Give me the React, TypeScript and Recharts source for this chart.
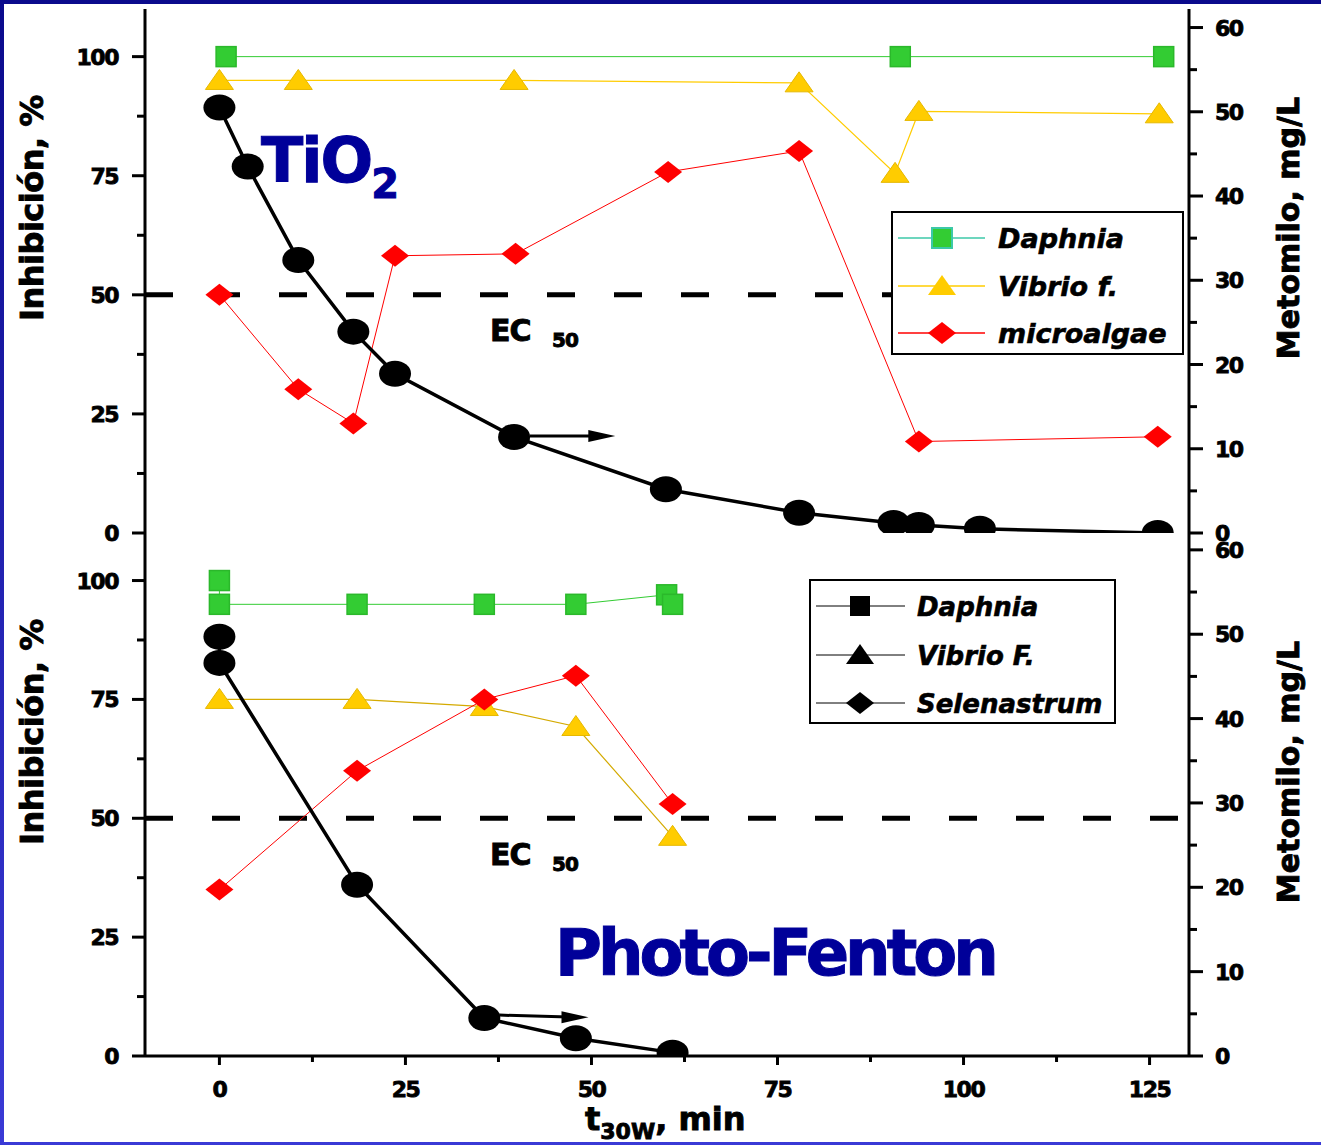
import React from 'react';
import { ComposedChart, Line, XAxis, YAxis, ReferenceLine, ReferenceDot } from 'recharts';

// TiO2 panel (top)
const tio2DaphniaT = [0.9, 91.5, 126.9];
const tio2DaphniaInh = [100, 100, 100];
const tio2VibrioT = [0, 10.6, 39.6, 77.9, 90.8, 94.0, 126.3];
const tio2VibrioInh = [95, 95, 95, 94.5, 75.5, 88.5, 88];
const tio2AlgaeT = [0, 10.6, 18.0, 23.6, 39.8, 60.3, 77.9, 94.0, 126.1];
const tio2AlgaeInh = [50, 30.2, 23, 58.2, 58.6, 75.8, 80.2, 19.2, 20.2];
const tio2MetT = [0, 3.8, 10.6, 18.0, 23.6, 39.6, 60.0, 77.9, 90.6, 94.0, 102.2, 126.1];
const tio2MetConc = [50.5, 43.5, 32.4, 23.9, 18.9, 11.4, 5.2, 2.4, 1.2, 0.95, 0.5, 0];

// Photo-Fenton panel (bottom)
const pfDaphniaT = [0, 0, 18.5, 35.6, 47.9, 60.1, 60.9];
const pfDaphniaInh = [100, 95, 95, 95, 95, 97, 95];
const pfVibrioT = [0, 18.5, 35.6, 47.9, 60.9];
const pfVibrioInh = [75, 75, 73.5, 69.3, 46.2];
const pfAlgaeT = [0, 18.5, 35.6, 47.9, 60.9];
const pfAlgaeInh = [35, 60, 75, 80, 53];
const pfMetT = [0, 0, 18.5, 35.6, 47.9, 60.9];
const pfMetConc = [49.7, 46.6, 20.3, 4.5, 2.1, 0.4];

// axes
const ec50 = 50;
const tDomain = [-10, 130.3];
const tTicks = [0, 12.5, 25, 37.5, 50, 62.5, 75, 87.5, 100, 112.5, 125];
const inhTicks = [0, 12.5, 25, 37.5, 50, 62.5, 75, 87.5, 100];
const concTicks = [0, 5, 10, 15, 20, 25, 30, 35, 40, 45, 50, 55, 60];

// arrows pointing to the right axis
const tio2Arrow = [{ t: 41.7, v: 11.5 }, { t: 53.2, v: 11.5 }];
const pfArrow = [{ t: 37.6, v: 4.85 }, { t: 49.6, v: 4.6 }];

const zip = (ts: number[], vs: number[]) => ts.map((t, i) => ({ t, v: vs[i] }));
const ec50Line = [{ t: tDomain[0], v: ec50 }, { t: tDomain[1], v: ec50 }];

const FONT = '"DejaVu Sans", Verdana, sans-serif';
const NAVY = '#000099';
const GREEN = '#33cc33';
const TEAL = '#3cc8a8';
const YELLOW = '#ffcc00';
const RED = '#ff0000';

const tickStyle: React.CSSProperties = {
  fontFamily: FONT, fontWeight: 700, fontSize: 22, letterSpacing: -1.5, fill: '#000', stroke: '#000', strokeWidth: 0.8,
};

function LeftTick(props: any) {
  const { x, y, payload } = props;
  const major = payload.value % 25 === 0;
  return (
    <g>
      <line x1={x - (major ? 13 : 8)} y1={y} x2={x} y2={y} stroke="#000" strokeWidth={3} />
      {major && <text x={x - 27} y={y + 8} textAnchor="end" style={tickStyle}>{payload.value}</text>}
    </g>
  );
}

function RightTick(props: any) {
  const { x, y, payload } = props;
  const major = payload.value % 10 === 0;
  return (
    <g>
      <line x1={x} y1={y} x2={x + (major ? 14 : 8)} y2={y} stroke="#000" strokeWidth={3} />
      {major && <text x={x + 26} y={y + 8} textAnchor="start" style={tickStyle}>{payload.value}</text>}
    </g>
  );
}

function BottomTick(props: any) {
  const { x, y, payload } = props;
  const major = payload.value % 25 === 0;
  return (
    <g>
      <line x1={x} y1={y} x2={x} y2={y + (major ? 9 : 6)} stroke="#000" strokeWidth={3} />
      {major && <text x={x} y={y + 41} textAnchor="middle" style={tickStyle}>{payload.value}</text>}
    </g>
  );
}

const square = (fill: string, stroke: string) => (p: any) => (
  <rect key={`sq-${p.index}`} x={p.cx - 10} y={p.cy - 10} width={20} height={20} fill={fill} stroke={stroke} strokeWidth={1.5} />
);
const triangle = (p: any) => (
  <polygon key={`tr-${p.index}`} points={`${p.cx},${p.cy - 11} ${p.cx - 14},${p.cy + 9} ${p.cx + 14},${p.cy + 9}`} fill={YELLOW} stroke="#e6b800" strokeWidth={1} />
);
const diamond = (p: any) => (
  <polygon key={`di-${p.index}`} points={`${p.cx},${p.cy - 11} ${p.cx + 14},${p.cy} ${p.cx},${p.cy + 11} ${p.cx - 14},${p.cy}`} fill={RED} />
);
const blob = (p: any) => <ellipse key={`el-${p.index}`} cx={p.cx} cy={p.cy} rx={16} ry={13} fill="#000" />;
const arrowHead = (p: any) => (
  <polygon points={`${p.cx},${p.cy} ${p.cx - 27},${p.cy - 6} ${p.cx - 27},${p.cy + 6}`} fill="#000" />
);

const axisLine = { stroke: '#000', strokeWidth: 3 };

function Panel(props: {
  height: number; top: number; bottom: number; showX: boolean; xHeight: number; concMax: number;
  daphnia: { t: number; v: number }[]; vibrio: { t: number; v: number }[]; algae: { t: number; v: number }[];
  met: { t: number; v: number }[]; arrow: { t: number; v: number }[]; vibrioLine: string;
}) {
  const { height, top, bottom, showX, xHeight, concMax, daphnia, vibrio, algae, met, arrow, vibrioLine } = props;
  return (
    <ComposedChart width={1321} height={height} margin={{ top, right: 0, bottom, left: 0 }}>
      <XAxis xAxisId="b" type="number" dataKey="t" domain={tDomain} allowDataOverflow ticks={tTicks} interval={0}
        height={xHeight} tickSize={0} tickMargin={0} tickLine={false} axisLine={axisLine}
        tick={showX ? <BottomTick /> : false} />
      <XAxis xAxisId="top" orientation="top" type="number" dataKey="t" domain={tDomain} allowDataOverflow
        height={0} tick={false} tickLine={false} axisLine={axisLine} hide={showX} />
      <YAxis yAxisId="l" type="number" domain={[0, 110]} allowDataOverflow ticks={inhTicks} interval={0}
        width={145} tickSize={0} tickMargin={0} tickLine={false} axisLine={axisLine} tick={<LeftTick />} />
      <YAxis yAxisId="r" orientation="right" type="number" domain={[0, concMax]} allowDataOverflow ticks={concTicks} interval={0}
        width={132} tickSize={0} tickMargin={0} tickLine={false} axisLine={axisLine} tick={<RightTick />} />
      <Line xAxisId="b" yAxisId="l" data={ec50Line} dataKey="v" stroke="#000" strokeWidth={5} strokeDasharray="28 39" dot={false} isAnimationActive={false} />
      <Line xAxisId="b" yAxisId="l" data={daphnia} dataKey="v" name="Daphnia" stroke={GREEN} strokeWidth={1} dot={square(GREEN, '#2bb82b')} isAnimationActive={false} />
      <Line xAxisId="b" yAxisId="l" data={vibrio} dataKey="v" name="Vibrio" stroke={vibrioLine} strokeWidth={1.2} dot={triangle} isAnimationActive={false} />
      <Line xAxisId="b" yAxisId="l" data={algae} dataKey="v" name="microalgae" stroke={RED} strokeWidth={1} dot={diamond} isAnimationActive={false} />
      <Line xAxisId="b" yAxisId="r" data={met} dataKey="v" name="Metomilo" stroke="#000" strokeWidth={3.5} dot={blob} isAnimationActive={false} />
      <ReferenceLine xAxisId="b" yAxisId="r" segment={[{ x: arrow[0].t, y: arrow[0].v }, { x: arrow[1].t - 1.5, y: arrow[1].v }]} stroke="#000" strokeWidth={3} />
      <ReferenceDot xAxisId="b" yAxisId="r" x={arrow[1].t} y={arrow[1].v} r={0} shape={arrowHead} />
    </ComposedChart>
  );
}

const legendText: React.CSSProperties = { fontFamily: FONT, fontWeight: 700, fontStyle: 'italic', fill: '#000', stroke: '#000', strokeWidth: 0.6 };
const titleText: React.CSSProperties = { fontFamily: FONT, fontWeight: 700, fill: '#000', stroke: '#000', strokeWidth: 0.9 };

export default function App() {
  return (
    <div style={{ position: 'absolute', left: 0, top: 0, width: 1321, height: 1145, background: 'linear-gradient(#0a0a8c, #3a3ad6)', overflow: 'hidden' }}>
      <div style={{ position: 'absolute', left: 4, top: 4, right: 0, bottom: 3, background: '#fff' }} />
      <div style={{ position: 'absolute', left: 0, top: 0 }}>
        <Panel height={545} top={9} bottom={12} showX={false} xHeight={0} concMax={62.2}
          daphnia={zip(tio2DaphniaT, tio2DaphniaInh)} vibrio={zip(tio2VibrioT, tio2VibrioInh)}
          algae={zip(tio2AlgaeT, tio2AlgaeInh)} met={zip(tio2MetT, tio2MetConc)} arrow={tio2Arrow} vibrioLine={YELLOW} />
      </div>
      <div style={{ position: 'absolute', left: 0, top: 520 }}>
        <Panel height={625} top={13} bottom={0} showX={true} xHeight={89} concMax={62}
          daphnia={zip(pfDaphniaT, pfDaphniaInh)} vibrio={zip(pfVibrioT, pfVibrioInh)}
          algae={zip(pfAlgaeT, pfAlgaeInh)} met={zip(pfMetT, pfMetConc)} arrow={pfArrow} vibrioLine="#d4aa00" />
      </div>
      <svg width={1321} height={1145} style={{ position: 'absolute', left: 0, top: 0, pointerEvents: 'none' }}>
        {/* panel titles */}
        <text x={261} y={182} style={{ fontFamily: FONT, fontWeight: 700, fontSize: 62, letterSpacing: -2, fill: NAVY, stroke: NAVY, strokeWidth: 1 }}>
          TiO<tspan fontSize={40} dy={16}>2</tspan>
        </text>
        <text x={555} y={975} style={{ fontFamily: FONT, fontWeight: 700, fontSize: 64, letterSpacing: -4, fill: NAVY, stroke: NAVY, strokeWidth: 1 }}>Photo-Fenton</text>

        {/* EC50 labels */}
        <text x={490} y={341} fontSize={30} letterSpacing={-1} style={titleText}>
          EC <tspan fontSize={20} dx={12} dy={6}>50</tspan>
        </text>
        <text x={490} y={865} fontSize={30} letterSpacing={-1} style={titleText}>
          EC <tspan fontSize={20} dx={12} dy={6}>50</tspan>
        </text>

        {/* axis titles */}
        <text transform="translate(43,208) rotate(-90)" textAnchor="middle" fontSize={32} letterSpacing={-0.5} style={titleText}>Inhibición, %</text>
        <text transform="translate(43,732) rotate(-90)" textAnchor="middle" fontSize={32} letterSpacing={-0.5} style={titleText}>Inhibición, %</text>
        <text transform="translate(1299,228) rotate(-90)" textAnchor="middle" fontSize={30} style={titleText}>Metomilo, mg/L</text>
        <text transform="translate(1299,772) rotate(-90)" textAnchor="middle" fontSize={30} style={titleText}>Metomilo, mg/L</text>
        <text x={585} y={1130} fontSize={32} style={titleText}>
          t<tspan fontSize={22} dy={9}>30W</tspan><tspan dy={-9}>, min</tspan>
        </text>

        {/* legend TiO2 */}
        <rect x={892} y={212} width={291} height={142} fill="#fff" stroke="#000" strokeWidth={2} />
        <line x1={898} y1={238} x2={985} y2={238} stroke={TEAL} strokeWidth={1.5} />
        <rect x={932} y={228} width={20} height={20} fill={GREEN} stroke={TEAL} strokeWidth={2} />
        <text x={998} y={248} fontSize={27} style={legendText}>Daphnia</text>
        <line x1={898} y1={286} x2={985} y2={286} stroke={YELLOW} strokeWidth={1.5} />
        <polygon points="942,275 928,295 956,295" fill={YELLOW} />
        <text x={998} y={296} fontSize={27} style={legendText}>Vibrio f.</text>
        <line x1={898} y1={333} x2={985} y2={333} stroke={RED} strokeWidth={1.5} />
        <polygon points="942,322 956,333 942,344 928,333" fill={RED} />
        <text x={998} y={343} fontSize={27} style={legendText}>microalgae</text>

        {/* legend Photo-Fenton */}
        <rect x={810} y={580} width={305} height={143} fill="#fff" stroke="#000" strokeWidth={2} />
        <line x1={816} y1={606} x2={905} y2={606} stroke="#000" strokeWidth={1} />
        <rect x={850} y={596} width={20} height={20} fill="#000" />
        <text x={917} y={616} fontSize={26} style={legendText}>Daphnia</text>
        <line x1={816} y1={655} x2={905} y2={655} stroke="#000" strokeWidth={1} />
        <polygon points="860,644 846,664 874,664" fill="#000" />
        <text x={917} y={665} fontSize={26} style={legendText}>Vibrio F.</text>
        <line x1={816} y1={703} x2={905} y2={703} stroke="#000" strokeWidth={1} />
        <polygon points="860,692 874,703 860,714 846,703" fill="#000" />
        <text x={917} y={713} fontSize={26} style={legendText}>Selenastrum</text>
      </svg>
    </div>
  );
}
